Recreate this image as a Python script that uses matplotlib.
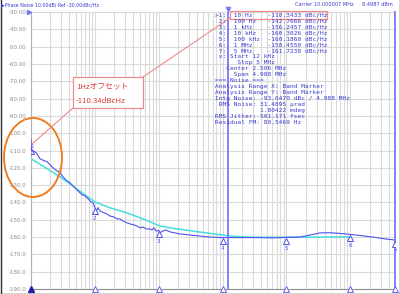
import matplotlib.pyplot as plt
from matplotlib.patches import Ellipse, Rectangle
from matplotlib.transforms import offset_copy

plt.rcParams['font.family'] = ['Noto Sans CJK JP', 'DejaVu Sans']

freq = [10, 10.2, 10.7, 12.0, 13.8, 16.0, 17.8, 19.8, 22.9, 25.5, 28.4, 31.7,
        36.6, 40.7, 47.0, 54.4, 62.9, 70.1, 78.1, 86.8, 93.2, 100, 104, 112,
        120, 139, 154, 172, 199, 222, 247, 276, 318, 355, 411, 458, 511, 569,
        635, 731, 785, 843, 906, 1000, 1040, 1160, 1290, 1500, 1790, 2150,
        3100, 4400, 6300, 10e3, 19e3, 39e3, 61e3, 100e3, 163e3, 234e3, 336e3,
        480e3, 690e3, 1e6, 1.43e6, 2.47e6, 3.55e6, 5e6]
noise = [-103.7, -110.3, -110.1, -111.2, -114.7, -115.9, -116.4, -118.2,
         -120.5, -121.7, -122.8, -125.2, -127.5, -128.6, -131.0, -133.3,
         -135.6, -136.2, -137.9, -139.7, -140.2, -142.8, -145.5, -143.0,
         -144.9, -146.0, -146.6, -147.8, -148.4, -149.5, -149.5, -150.7,
         -151.8, -152.4, -153.0, -153.6, -154.7, -154.2, -155.3, -155.3,
         -155.9, -154.7, -156.5, -156.2, -157.5, -156.5, -155.9, -157.0,
         -157.6, -158.2, -158.8, -159.4, -160.0, -160.3, -160.3, -160.3,
         -160.5, -160.2, -160.0, -158.8, -157.6, -157.5, -157.9, -158.5,
         -159.1, -160.2, -161.1, -161.7]

# smoothed trace
sm_freq = [10, 28.4, 100, 172, 318, 569, 1040, 1500, 4400, 13e3, 27e3, 160e3, 1e6]
sm_noise = [-114.7, -125.2, -139.7, -143.1, -146.0, -149.5, -153.6, -154.7,
            -157.1, -159.4, -160.1, -160.1, -159.9]

# markers
mk_freq = [10, 100, 1e3, 10e3, 100e3, 1e6, 5e6]
mk_val = [-110.3433, -142.7666, -156.2457, -160.3026, -160.1860, -158.4550, -161.7238]
mk_name = ['10 Hz', '100 Hz', '1 kHz', '10 kHz', '100 kHz', '1 MHz', '5 MHz']

yticks = list(range(-30, -191, -10))
ylabels = ['%.2f' % v if v > -100 else '%.1f' % v for v in yticks]

BLUE = '#5050ee'
TXT = '#3a3ad0'
BAND = '#7878ff'
CYAN = '#45dede'
PINK = '#f08a8a'

fig = plt.figure(figsize=(4, 2.94), dpi=100)
ax = fig.add_axes([31 / 400, 1 - 289 / 294, 364 / 400, 277 / 294])
ax.set_xscale('log')
ax.set_xlim(10, 5e6)
ax.set_ylim(-190, -30)
ax.set_yticks(yticks)
ax.set_yticklabels(ylabels, fontsize=4, color='#8a8a8a', family='DejaVu Sans')
ax.tick_params(length=0, pad=3)
ax.tick_params(axis='x', which='both', labelbottom=False, length=0)
ax.grid(True, which='both', color='#dadada', lw=0.8)
for s in ['top', 'right']:
    ax.spines[s].set_visible(False)
ax.spines['left'].set_color('#b0b0b0')
ax.spines['bottom'].set_color('#909090')

ax.plot(sm_freq, sm_noise, color=CYAN, lw=1.1, zorder=3)
ax.plot(freq, noise, color=BLUE, lw=0.8, zorder=4)
ax.axvline(12e3, color=BAND, lw=1.3, zorder=5)
ax.axvline(5e6, color=BAND, lw=1.3, zorder=5, clip_on=False)

# marker triangles under the trace, with numbers
below = offset_copy(ax.transData, fig, y=-3.5, units='dots')
ax.plot(mk_freq[1:], mk_val[1:], ls='none', marker='^', ms=4, mfc='white',
        mec=BLUE, mew=0.7, transform=below, zorder=6)
ax.plot(mk_freq[:1], mk_val[:1], ls='none', marker='^', ms=4, mfc='none',
        mec=BLUE, mew=0.7, zorder=6)
for i, (f, v) in enumerate(zip(mk_freq, mk_val)):
    dy = 5 if i == 0 else -11
    ax.annotate(str(i + 1), (f, v), xytext=(1 if i == 0 else 0, dy),
                textcoords='offset pixels', ha='center', va='center',
                fontsize=4, color=BLUE, family='DejaVu Sans')
ax.plot(mk_freq[1:], [-190] * 6, ls='none', marker='^', ms=4, mfc='white',
        mec=BLUE, mew=0.6, clip_on=False, zorder=6)
ax.plot(mk_freq[:1], [-190], ls='none', marker='^', ms=4, color='#2020b0',
        clip_on=False, zorder=6)

# overlay in pixel units for the screen decorations
ov = fig.add_axes([0, 0, 1, 1], zorder=10)
ov.set_xlim(0, 400)
ov.set_ylim(294, 0)
ov.axis('off')

ov.text(1, 5, '\u25b6Phase Noise 10.00dB/ Ref -30.00dBc/Hz', fontsize=3.4,
        color=TXT, va='center', family='DejaVu Sans')
ov.text(295, 4, 'Carrier 10.000007 MHz', fontsize=3.6, color=TXT, va='center',
        family='DejaVu Sans')
ov.text(362, 4, '8.4987 dBm', fontsize=3.6, color=TXT, va='center',
        family='DejaVu Sans')
ov.plot([29], [12], marker='>', ms=3, color=BAND)
ov.plot([228], [9], marker='v', ms=3, color=BAND)

lines = []
for i, (n, v) in enumerate(zip(mk_name, mk_val)):
    lines.append('%s%d:  %-8s %9.4f dBc/Hz' % ('>' if i == 0 else ' ', i + 1, n, v))
lines += [' x: Start 12 kHz',
          '      Stop 5 MHz',
          '   Center 2.506 MHz',
          '     Span 4.988 MHz',
          '=== Noise ===',
          'Analysis Range X: Band Marker',
          'Analysis Range Y: Band Marker',
          'Intg Noise: -93.0470 dBc / 4.988 MHz',
          ' RMS Noise: 31.4895 \u00b5rad',
          '            1.80422 mdeg',
          'RMS Jitter: 501.171 fsec',
          'Residual FM: 80.5469 Hz']
for i, s in enumerate(lines):
    ov.text(215, 15 + i * 5.95, s, fontsize=4.4, color=TXT, va='center',
            family='DejaVu Sans Mono')

# callout
ov.add_patch(Rectangle((230, 11), 97, 8, fill=False, ec=PINK, lw=0.9))
ov.add_patch(Rectangle((73, 77), 70, 31, fc='white', ec=PINK, lw=0.9))
ov.plot([143, 230], [77, 18], color=PINK, lw=0.8)
ov.plot([73, 32], [108, 144], color=PINK, lw=0.8)
ov.text(76, 86, '1Hzオフセット', fontsize=5.6, color='#e03c3c', va='center')
ov.text(76, 101, '-110.34dBcHz', fontsize=5.6, color='#e03c3c', va='center')
ov.add_patch(Ellipse((33, 157.5), 58, 79, fill=False, ec='#f07d22', lw=1.4))

# screen frame
ov.plot([0.5, 0.5, 399.5, 399.5], [0, 293.5, 293.5, 0], color='#303030', lw=1)

fig.savefig('out.png', dpi=100)
